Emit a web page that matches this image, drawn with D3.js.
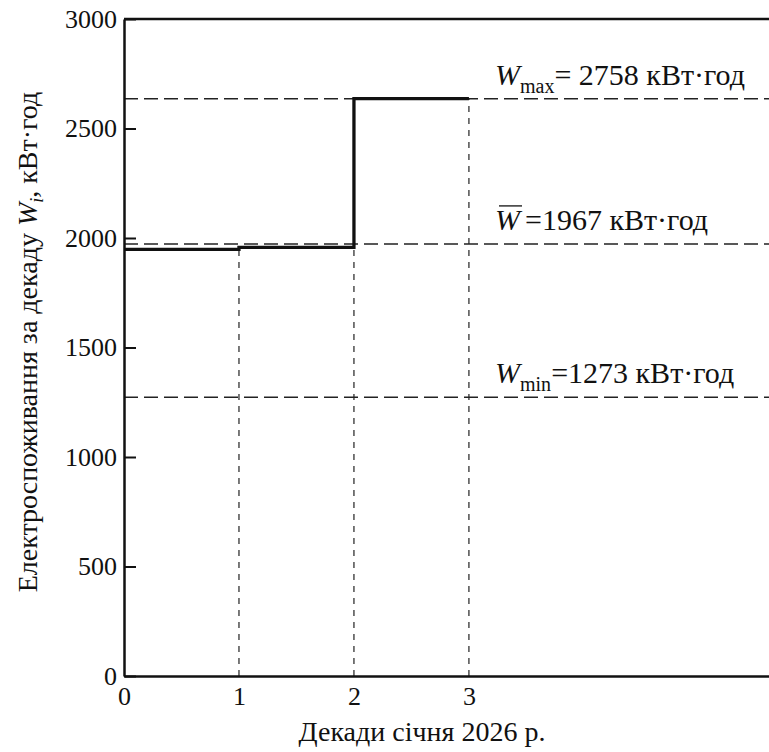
<!DOCTYPE html>
<html>
<head>
<meta charset="utf-8">
<script src="https://cdnjs.cloudflare.com/ajax/libs/d3/7.8.5/d3.min.js"></script>
<style>
  body { margin: 0; background: #fff; }
  svg text { font-family: "Liberation Serif", "Times New Roman", Times, "DejaVu Serif", serif !important; fill: #111; }
</style>
</head>
<body>
<svg width="769" height="752"></svg>
<script>
  // decade boundaries and consumption per decade (kWh)
  const decadeTicks = [0, 1, 2, 3]
  const decadeEnergy = [1948, 1957, 2636]
  const yTicks = [0, 500, 1000, 1500, 2000, 2500, 3000]

  // reference levels: where the line is drawn and what the label says
  const levelNames = ['max', 'mean', 'min']
  const levelValues = [2636, 1973, 1273]
  const levelLabels = ['= 2758 кВт·год', '=1967 кВт·год', '=1273 кВт·год']

  const xTitle = 'Декади січня 2026 р.'

  const width = 769
  const height = 752
  const plotLeft = 124, plotTop = 19, plotBottom = 676
  const svg = d3.select('svg')

  const x = d3.scaleLinear().domain([0, 5.61]).range([plotLeft, width])
  const y = d3.scaleLinear().domain([0, 3000]).range([plotBottom, plotTop])

  // reference dashed lines
  svg.append('g').selectAll('line')
    .data(levelValues).enter().append('line')
    .attr('x1', x(0)).attr('x2', x(5.61))
    .attr('y1', d => y(d)).attr('y2', d => y(d))
    .attr('stroke', '#222').attr('stroke-width', 1.5)
    .attr('stroke-dasharray', '14,6')

  // vertical dashed drops at decade boundaries
  const stepPts = decadeEnergy.map((v, i) => [i, v]).concat([[decadeEnergy.length, decadeEnergy[decadeEnergy.length - 1]]])
  svg.append('g').selectAll('line')
    .data(decadeTicks.slice(1)).enter().append('line')
    .attr('x1', d => x(d)).attr('x2', d => x(d))
    .attr('y1', y(0))
    .attr('y2', d => y(d3.max(decadeEnergy.filter((_, i) => i === d || i === d - 1))))
    .attr('stroke', '#222').attr('stroke-width', 1.2)
    .attr('stroke-dasharray', '6,6')

  // step line
  svg.append('path')
    .datum(stepPts)
    .attr('d', d3.line().x(d => x(d[0])).y(d => y(d[1])).curve(d3.curveStepAfter))
    .attr('fill', 'none').attr('stroke', '#111').attr('stroke-width', 3.3)

  // axes
  const yAxis = svg.append('g').attr('transform', `translate(${plotLeft},0)`)
    .call(d3.axisLeft(y).tickValues(yTicks).tickSize(-12).tickSizeOuter(0).tickPadding(7).tickFormat(d3.format('d')))
  yAxis.attr('font-family', null)
  yAxis.selectAll('text').attr('font-size', 26).attr('fill', '#111')
  yAxis.selectAll('line').attr('stroke', '#111').attr('stroke-width', 2)
  yAxis.select('.domain').attr('stroke', '#111').attr('stroke-width', 2.5)

  const xAxis = svg.append('g').attr('transform', `translate(0,${plotBottom})`)
    .call(d3.axisBottom(x).tickValues(decadeTicks).tickSize(0).tickPadding(11).tickFormat(d3.format('d')))
  xAxis.attr('font-family', null)
  xAxis.selectAll('text').attr('font-size', 26).attr('fill', '#111')
  xAxis.select('.domain').attr('stroke', '#111').attr('stroke-width', 2.5)

  // top frame line
  svg.append('line')
    .attr('x1', x(0)).attr('x2', x(5.61)).attr('y1', y(3000)).attr('y2', y(3000))
    .attr('stroke', '#111').attr('stroke-width', 2.5)

  // level labels
  const labelG = svg.append('g').selectAll('text')
    .data(levelNames).enter().append('text')
    .attr('x', 495)
    .attr('y', (d, i) => y(levelValues[i]) - 14)
    .attr('font-size', 30)
  labelG.append('tspan').attr('font-style', 'italic').attr('class', 'wsym').text('W')
  labelG.filter(d => d !== 'mean').append('tspan')
    .attr('font-size', 20).attr('dy', 8).text(d => d)
  labelG.append('tspan')
    .attr('dy', d => d === 'mean' ? 0 : -8)
    .attr('dx', d => d === 'mean' ? 5 : 0)
    .text((d, i) => levelLabels[i])
  // bar over the mean W
  labelG.filter(d => d === 'mean').each(function (d) {
    const i = levelNames.indexOf(d)
    const w = this.querySelector('.wsym').getComputedTextLength()
    svg.append('line')
      .attr('x1', 499).attr('x2', 495 + w + 2)
      .attr('y1', y(levelValues[i]) - 38).attr('y2', y(levelValues[i]) - 38)
      .attr('stroke', '#111').attr('stroke-width', 1.3)
  })

  // axis titles
  svg.append('text')
    .attr('x', 422).attr('y', 741)
    .attr('text-anchor', 'middle').attr('font-size', 28)
    .text(xTitle)

  const yTitle = svg.append('text')
    .attr('transform', 'translate(37,342) rotate(-90)')
    .attr('text-anchor', 'middle').attr('font-size', 28)
  yTitle.append('tspan').text('Електроспоживання за декаду ')
  yTitle.append('tspan').attr('font-style', 'italic').text('W')
  yTitle.append('tspan').attr('font-style', 'italic').attr('font-size', 18).attr('dy', 6).text('i')
  yTitle.append('tspan').attr('dy', -6).text(', кВт·год')
</script>
</body>
</html>
